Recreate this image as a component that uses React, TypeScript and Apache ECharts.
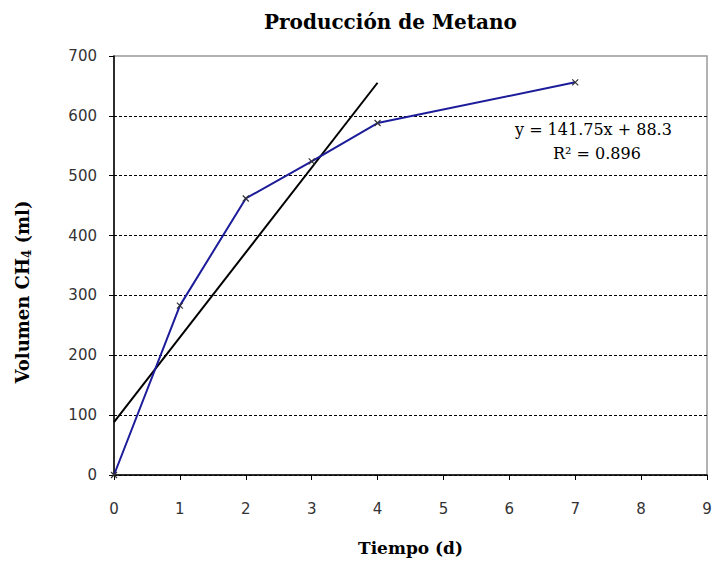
import React, { useEffect, useRef } from "react";
import * as echarts from "echarts";

const days = [0, 1, 2, 3, 4, 7];
const volume = [0, 283, 462, 524, 588, 656];
const slope = 141.75;
const intercept = 88.3;
const trendX = [0, 4];
const eqText = "y = 141.75x + 88.3";
const r2Text = "R² = 0.896";

export default function App() {
  const ref = useRef<HTMLDivElement>(null);
  useEffect(() => {
    document.body.style.margin = "0";
    const chart = echarts.init(ref.current!, undefined, { renderer: "svg" });
    const serif = "DejaVu Serif";
    const sans = "DejaVu Sans";
    chart.setOption({
      animation: false,
      backgroundColor: "#ffffff",
      title: {
        text: "Producción de Metano",
        left: 259,
        top: 7,
        textStyle: { fontFamily: serif, fontWeight: "bold", fontSize: 20, color: "#000" },
      },
      grid: { left: 114, right: 8, top: 56, bottom: 85, show: true, borderColor: "#999", borderWidth: 1.5, backgroundColor: "transparent" },
      xAxis: {
        type: "value",
        min: 0,
        max: 9,
        interval: 1,
        name: "Tiempo (d)",
        nameLocation: "middle",
        nameGap: 64,
        nameTextStyle: { fontFamily: serif, fontWeight: "bold", fontSize: 17, color: "#000" },
        axisLine: { show: true, onZero: false, lineStyle: { color: "#000", width: 1.5 } },
        axisTick: { show: true, length: 5, lineStyle: { color: "#000" } },
        axisLabel: { fontFamily: sans, fontSize: 15, color: "#333", margin: 26 },
        splitLine: { show: false },
      },
      yAxis: {
        type: "value",
        min: 0,
        max: 700,
        interval: 100,
        axisLine: { show: true, lineStyle: { color: "#000", width: 1.5 } },
        axisTick: { show: true, length: 5, lineStyle: { color: "#000" } },
        axisLabel: { fontFamily: sans, fontSize: 15, color: "#333", margin: 17 },
        splitLine: { show: true, showMaxLine: false, lineStyle: { color: "#000", type: [3, 2], width: 1 } },
      },
      series: [
        {
          type: "line",
          data: trendX.map((x) => [x, intercept + slope * x]),
          symbol: "none",
          lineStyle: { color: "#000", width: 2 },
          z: 2,
        },
        {
          type: "line",
          data: days.map((d, i) => [d, volume[i]]),
          symbol: "path://M0,0L10,10M10,0L0,10",
          symbolSize: 6,
          itemStyle: { color: "transparent", borderColor: "#333", borderWidth: 1.2 },
          lineStyle: { color: "#1c1c9a", width: 2 },
          z: 3,
        },
      ],
      graphic: [
        {
          type: "text",
          x: 22,
          y: 292,
          rotation: Math.PI / 2,
          style: {
            text: "{a|Volumen CH}{s|4}{a| (ml)}",
            align: "center",
            verticalAlign: "middle",
            rich: {
              a: { fontFamily: serif, fontWeight: "bold", fontSize: 18, fill: "#000" },
              s: { fontFamily: serif, fontWeight: "bold", fontSize: 12, fill: "#000", verticalAlign: "bottom", padding: [9, 0, 0, 0] },
            },
          },
        },
        { type: "text", left: 515, top: 121, style: { text: eqText, fontFamily: serif, fontSize: 16, fill: "#000" } },
        { type: "text", left: 553, top: 145, style: { text: r2Text, fontFamily: serif, fontSize: 16, fill: "#000" } },
      ],
    });
    return () => chart.dispose();
  }, []);
  return <div ref={ref} style={{ width: 715, height: 561 }} />;
}
